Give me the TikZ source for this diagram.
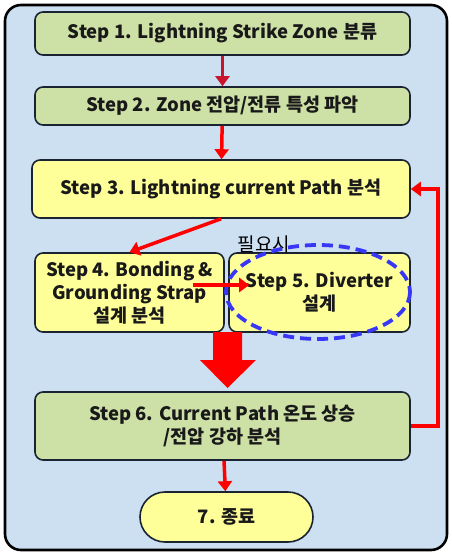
\documentclass[tikz,border=0pt]{standalone}
\usepackage{fontspec}
\setmainfont{Noto Sans CJK KR}
\usetikzlibrary{arrows.meta,shapes.geometric}

\definecolor{panelblue}{RGB}{204,224,241}
\definecolor{stepgreen}{RGB}{205,224,165}
\definecolor{stepyellow}{RGB}{255,255,153}
\definecolor{edgenavy}{RGB}{25,35,50}
\definecolor{darkred}{RGB}{200,20,45}
\definecolor{ringblue}{RGB}{55,55,245}

\begin{document}
\begin{tikzpicture}[x=1pt,y=-1pt,
        stepbox/.style={draw=edgenavy,line width=1.6pt,rounded corners=8pt,align=center,
            font=\bfseries\fontsize{18.5}{23}\selectfont,text=black!90},
        flow/.style={red,line width=3.5pt,-{Triangle[length=10pt,width=14pt]}}]
    \useasboundingbox (0,0) rectangle (451,554);
    \draw[line width=2.6pt,rounded corners=16pt,fill=panelblue] (5,5) rectangle (447,550);

    % steps
    \node[stepbox,fill=stepgreen,minimum width=375pt,minimum height=43pt] (s1) at (222.5,33.5)
        {Step 1. Lightning Strike Zone 분류};
    \node[stepbox,fill=stepgreen,minimum width=375pt,minimum height=38pt] (s2) at (222.5,106)
        {Step 2. Zone 전압/전류 특성 파악};
    \node[stepbox,fill=stepyellow,minimum width=378pt,minimum height=58pt] (s3) at (221,189)
        {Step 3. Lightning current Path 분석};
    \node[stepbox,fill=stepyellow,minimum width=189pt,minimum height=79pt] (s4) at (129.5,292.5)
        {Step 4. Bonding \&\\Grounding Strap\\설계 분석};
    \node[stepbox,fill=stepyellow,minimum width=181pt,minimum height=79pt] (s5) at (319.5,292.5)
        {Step 5. Diverter\\설계};
    \node[stepbox,fill=stepgreen,minimum width=375pt,minimum height=68pt] (s6) at (222.5,426)
        {Step 6. Current Path 온도 상승\\/전압 강하 분석};
    \node[stepbox,fill=stepyellow,rounded corners=25pt,minimum width=173pt,minimum height=50pt] (s7) at (226.5,517)
        {7. 종료};

    \node[font=\fontsize{19}{22}\selectfont] (need) at (264,244) {필요시};
    \draw[ringblue,line width=3.8pt,dash pattern=on 11pt off 6pt] (318,292) ellipse (92 and 47);

    % connectors
    \draw[flow,darkred] (s1) -- (s2);
    \draw[flow] (s2) -- (s3);
    \draw[flow] (s3.south) -- (s4.north);
    \draw[flow] ([xshift=-32pt,yshift=7.5pt]s4.east) -- ([xshift=21pt,yshift=7.5pt]s5.west);
    \draw[flow] (s6) -- (s7);
    \draw[flow] (s6.east) -- ++(27,0) |- (s3.east);
    \fill[red] (213,332) -- (242,332) -- (242,360) -- (256,360) -- (227.5,388)
        -- (200,360) -- (213,360) -- cycle;
\end{tikzpicture}
\end{document}
